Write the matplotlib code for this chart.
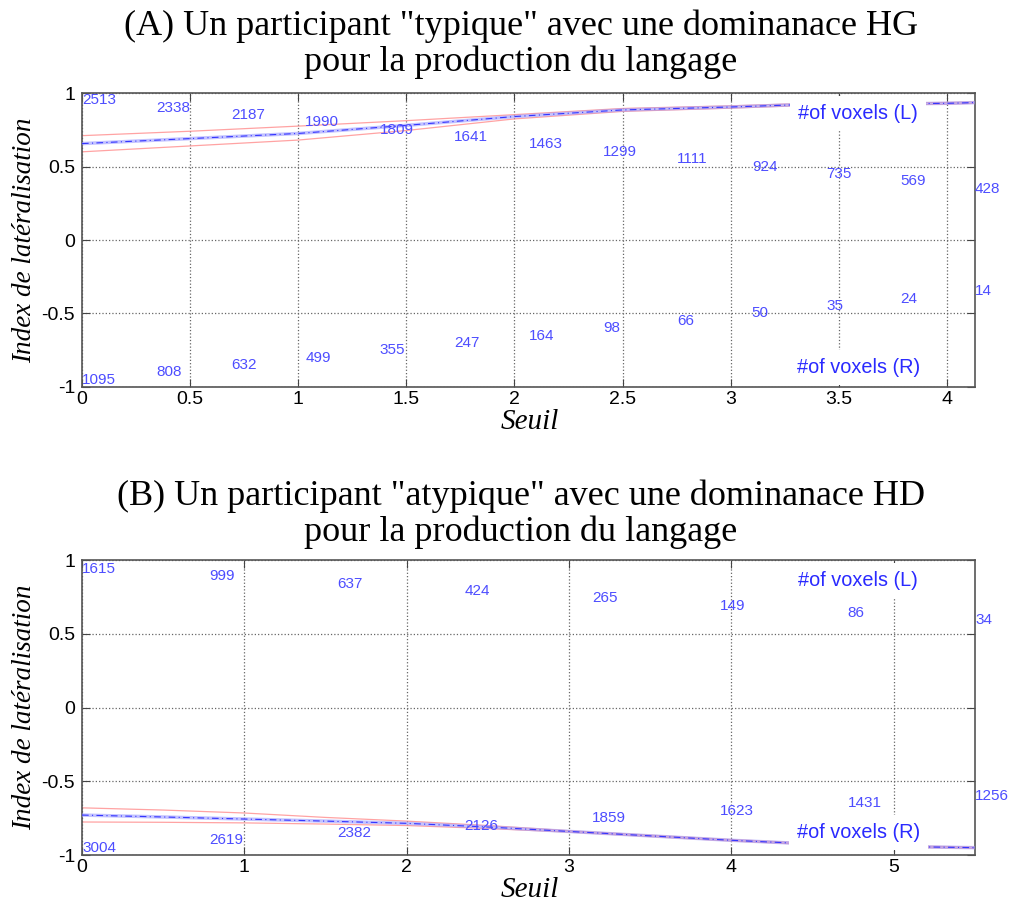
import matplotlib.pyplot as plt
import numpy as np

# ---- panel A : typical participant (left dominance) ----
seuil_a = [0, 0.5, 1, 1.5, 2, 2.5, 3, 3.3, 4, 4.13]
li_a = [0.656, 0.69, 0.725, 0.78, 0.84, 0.885, 0.905, 0.92, 0.93, 0.935]
li_a_hi = [0.71, 0.74, 0.775, 0.812, 0.853, 0.895, 0.913, 0.927, 0.936, 0.94]
li_a_lo = [0.60, 0.64, 0.68, 0.745, 0.824, 0.875, 0.897, 0.913, 0.924, 0.93]
vox_l_a = [2513, 2338, 2187, 1990, 1809, 1641, 1463, 1299, 1111, 924, 735, 569, 428]
vox_r_a = [1095, 808, 632, 499, 355, 247, 164, 98, 66, 50, 35, 24, 14]
xmax_a = 4.13

# ---- panel B : atypical participant (right dominance) ----
seuil_b = [0, 0.5, 1, 1.5, 2, 2.5, 3, 3.5, 4, 4.4, 5.2, 5.5]
li_b = [-0.729, -0.742, -0.756, -0.77, -0.785, -0.81, -0.84, -0.87, -0.90, -0.92, -0.945, -0.95]
li_b_hi = [-0.68, -0.695, -0.715, -0.745, -0.77, -0.80, -0.835, -0.865, -0.895, -0.915, -0.94, -0.945]
li_b_lo = [-0.776, -0.778, -0.782, -0.79, -0.80, -0.82, -0.845, -0.875, -0.905, -0.925, -0.95, -0.955]
vox_l_b = [1615, 999, 637, 424, 265, 149, 86, 34]
vox_r_b = [3004, 2619, 2382, 2126, 1859, 1623, 1431, 1256]
xmax_b = 5.5

title_a = '(A) Un participant "typique" avec une dominanace HG\npour la production du langage'
title_b = '(B) Un participant "atypique" avec une dominanace HD\npour la production du langage'

plt.rcParams['font.family'] = ['Liberation Sans', 'DejaVu Sans']

fig = plt.figure(figsize=(10.11, 9.05), dpi=100)
ax_a = fig.add_axes([0.0811, 0.5724, 0.8833, 0.3248])
ax_b = fig.add_axes([0.0811, 0.0552, 0.8833, 0.3260])

numcol = '#4d4dff'


def draw_panel(ax, x, li, hi, lo, vl, vr, xmax, xticks, y_l0, y_rlab, title, ty):
    ax.plot(x, hi, color='#ff8c8c', lw=0.9, alpha=0.8, zorder=2)
    ax.plot(x, lo, color='#ff8c8c', lw=0.9, alpha=0.8, zorder=2)
    ax.plot(x, li, color='#9a9aff', lw=2.5, alpha=0.6, zorder=3)
    ax.plot(x, li, color='#3535ff', lw=0.8, ls=(0, (6, 3, 1, 3)), zorder=3)

    xl = np.linspace(0, xmax, len(vl))
    for i, v in enumerate(vl):
        ax.text(xl[i], y_l0 - 0.05 * i, str(v), color=numcol, fontsize=11,
                ha='left', va='center', zorder=5, clip_on=False)
    for i, v in enumerate(vr):
        ax.text(xl[i], -0.95 + 0.05 * i, str(v), color=numcol, fontsize=11,
                ha='left', va='center', zorder=5, clip_on=False)

    box = dict(facecolor='white', edgecolor='none', boxstyle='square,pad=0.4')
    xc = 3.59 / 4.13 * xmax
    ax.text(xc, 0.86, '#of voxels (L)', color='#2a2aff', fontsize=14.3,
            ha='center', va='center', bbox=box, zorder=6)
    ax.text(xc, y_rlab, '#of voxels (R)', color='#2a2aff',
            fontsize=14.3, ha='center', va='center', bbox=box, zorder=6)

    ax.set_xlim(0, xmax)
    ax.set_ylim(-1, 1)
    ax.set_xticks(xticks)
    ax.set_xticklabels([('%g' % t) for t in xticks])
    ax.set_yticks([-1, -0.5, 0, 0.5, 1])
    ax.set_yticklabels(['-1', '-0.5', '0', '0.5', '1'])
    ax.grid(True, color='#666666', ls=':', lw=0.9)
    ax.set_axisbelow(True)
    ax.tick_params(direction='in', length=6, top=True, right=True,
                   labelsize=14, color='#444444')
    ax.tick_params(axis='x', pad=3)
    ax.tick_params(axis='y', pad=5)
    for s in ax.spines.values():
        s.set_color('#555555')
        s.set_linewidth(1.2)
    ax.set_xlabel('Seuil', family='Liberation Serif', style='italic', fontsize=21,
                  va='center')
    ax.xaxis.set_label_coords(0.502, -0.12)
    ax.set_ylabel('Index de latéralisation', family='Liberation Serif', style='italic',
                  fontsize=19.5, va='center')
    ax.yaxis.set_label_coords(-0.064, 0.5)
    fig.text(0.515, ty, title, family='Liberation Serif', fontsize=26,
             ha='center', va='center', linespacing=1.12)


draw_panel(ax_a, seuil_a, li_a, li_a_hi, li_a_lo, vox_l_a, vox_r_a, xmax_a,
           [0, 0.5, 1, 1.5, 2, 2.5, 3, 3.5, 4], 0.95, -0.87, title_a, 0.951)
draw_panel(ax_b, seuil_b, li_b, li_b_hi, li_b_lo, vox_l_b, vox_r_b, xmax_b,
           [0, 1, 2, 3, 4, 5], 0.94, -0.85, title_b, 0.432)

fig.savefig('out.png', dpi=100)
